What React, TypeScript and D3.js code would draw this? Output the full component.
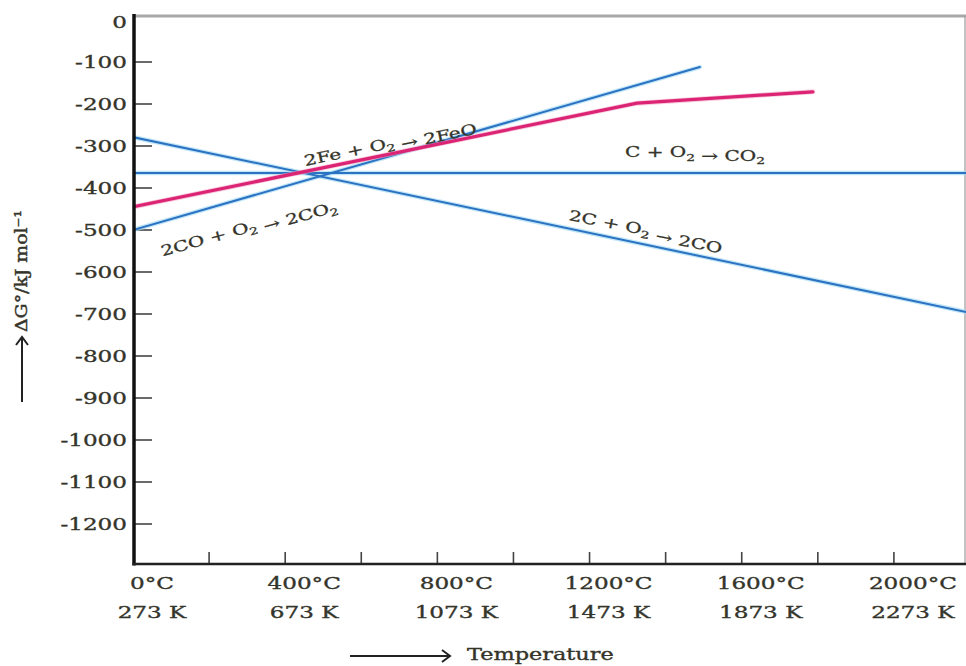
import React from "react";
import * as d3 from "d3";

// ---- data ----
const yTickValues = [0, -100, -200, -300, -400, -500, -600, -700, -800, -900, -1000, -1100, -1200];
const xTickValues = [200, 400, 600, 800, 1000, 1200, 1400, 1600, 1800, 2000];
const xLabelValues = [0, 400, 800, 1200, 1600, 2000];
const xLabelsC = ["0°C", "400°C", "800°C", "1200°C", "1600°C", "2000°C"];
const xLabelsK = ["273 K", "673 K", "1073 K", "1473 K", "1873 K", "2273 K"];

// C + O2 -> CO2
const cco2T = [0, 2200];
const cco2G = [-364, -364];
// 2C + O2 -> 2CO
const ccoT = [0, 2200];
const ccoG = [-279, -697];
// 2CO + O2 -> 2CO2
const coco2T = [0, 1490];
const coco2G = [-500, -112];
// 2Fe + O2 -> 2FeO
const feT = [0, 1325, 1787];
const feG = [-445, -198, -171];

const W = 966;
const H = 666;
const FONT = "'DejaVu Serif', 'Liberation Serif', serif";
const TXT = "#34342a";
const BLUE = "#2a72c2";
const HALO = "#a9dcf3";
const MAG = "#dc2474";

const x = d3.scaleLinear().domain([0, 2200]).range([133, 970]);
const y = d3.scaleLinear().domain([0, -1200]).range([20, 524]);
const X0 = 134;
const Y0 = 564;
const XR = 965;

const lineGen = d3
  .line<[number, number]>()
  .x((d) => x(d[0]))
  .y((d) => y(d[1]));

const zip = (a: number[], b: number[]) => a.map((v, i) => [v, b[i]] as [number, number]);

function Sub({ c }: { c: string }) {
  return (
    <>
      <tspan dy={3.5} fontSize={10}>
        {c}
      </tspan>
      <tspan dy={-3.5}>{""}</tspan>
    </>
  );
}

export default function App() {
  const blueSeries = [zip(cco2T, cco2G), zip(ccoT, ccoG), zip(coco2T, coco2G)];
  const feSeries = zip(feT, feG);
  const sx = 1.4;
  const lab = 1.38;
  const textStroke = { stroke: TXT, strokeWidth: 0.35 };
  return (
    <svg
      width={W}
      height={H}
      style={{ position: "absolute", left: 0, top: 0, background: "#fff" }}
      fontFamily={FONT}
    >
      <defs>
        <clipPath id="plot">
          <rect x={X0} y={0} width={XR - X0 + 1} height={Y0} />
        </clipPath>
      </defs>

      {/* frame: top grey line and right grey line */}
      <line x1={X0} x2={W} y1={16} y2={16} stroke="#a8a8a8" strokeWidth={3} />
      <line x1={XR} x2={XR} y1={16} y2={Y0} stroke="#9a9a9a" strokeWidth={1.2} />

      {/* y ticks */}
      {yTickValues
        .filter((v) => v !== 0)
        .map((v) => (
          <line key={"yt" + v} x1={X0} x2={152} y1={y(v)} y2={y(v)} stroke="#444" strokeWidth={1.6} />
        ))}
      {yTickValues.map((v) => (
        <text
          key={"yl" + v}
          transform={`translate(127,${y(v) + (v === 0 ? 2 : 0)}) scale(${sx},1)`}
          textAnchor="end"
          dy="0.36em"
          fontSize={16.5}
          fill={TXT}
          {...textStroke}
        >
          {v === 0 ? "0" : "-" + Math.abs(v)}
        </text>
      ))}

      {/* x ticks */}
      {xTickValues.map((v) => (
        <line key={"xt" + v} x1={x(v)} x2={x(v)} y1={Y0} y2={552} stroke="#444" strokeWidth={1.6} />
      ))}
      {xLabelValues.map((v, i) => (
        <g key={"xl" + v}>
          <text
            transform={`translate(${x(v) + 19},589) scale(${sx},1)`}
            textAnchor="middle"
            fontSize={16.5}
            fill={TXT}
            {...textStroke}
          >
            {xLabelsC[i]}
          </text>
          <text
            transform={`translate(${x(v) + 19},618) scale(${sx},1)`}
            textAnchor="middle"
            fontSize={16.5}
            fill={TXT}
            {...textStroke}
          >
            {xLabelsK[i]}
          </text>
        </g>
      ))}

      {/* lines */}
      <g clipPath="url(#plot)" fill="none" strokeLinecap="round" strokeLinejoin="round">
        {blueSeries.map((s, i) => (
          <path key={"h" + i} d={lineGen(s) || ""} stroke={HALO} strokeWidth={4.5} opacity={0.7} />
        ))}
        {blueSeries.map((s, i) => (
          <path key={"b" + i} d={lineGen(s) || ""} stroke={BLUE} strokeWidth={2} />
        ))}
        <path d={lineGen(feSeries) || ""} stroke="#f3a9c8" strokeWidth={5} opacity={0.6} />
        <path d={lineGen(feSeries) || ""} stroke={MAG} strokeWidth={3.2} />
      </g>

      {/* axes */}
      <line x1={X0} x2={X0} y1={14} y2={Y0 + 1.5} stroke="#111" strokeWidth={3.5} />
      <line x1={X0 - 1.5} x2={W} y1={Y0} y2={Y0} stroke="#222" strokeWidth={2.5} />

      {/* reaction labels */}
      <g fontSize={14.5} fill={TXT} stroke={TXT} strokeWidth={0.3}>
        <text transform={`translate(391,148) rotate(-11.8) scale(${lab},1)`} textAnchor="middle">
          2Fe + O<Sub c="2" /> → 2FeO
        </text>
        <text transform={`translate(695,157) scale(${lab},1)`} textAnchor="middle">
          C + O<Sub c="2" /> → CO<Sub c="2" />
        </text>
        <text transform={`translate(645,235) rotate(11) scale(${lab},1)`} textAnchor="middle">
          2C + O<Sub c="2" /> → 2CO
        </text>
        <text transform={`translate(250,232) rotate(-15.5) scale(${lab},1)`} textAnchor="middle">
          2CO + O<Sub c="2" /> → 2CO<Sub c="2" />
        </text>
      </g>

      {/* y axis title */}
      <g stroke="#222" strokeWidth={2} fill="none">
        <line x1={22} x2={22} y1={402} y2={338} />
        <path d="M16,345 L22,337 L28,345" />
      </g>
      <text
        transform={`translate(27,271) scale(1.25,1) rotate(-90)`}
        textAnchor="middle"
        fontSize={13.5}
        fill={TXT}
        textLength={122}
        lengthAdjust="spacingAndGlyphs"
        {...textStroke}
      >
        ΔG°/kJ mol⁻¹
      </text>

      {/* x axis title */}
      <g stroke="#222" strokeWidth={2} fill="none">
        <line x1={350} x2={450} y1={656} y2={656} />
        <path d="M442,650 L450,656 L442,662" />
      </g>
      <text transform={`translate(467,660) scale(${sx},1)`} fontSize={16} fill={TXT} {...textStroke}>
        Temperature
      </text>
    </svg>
  );
}
